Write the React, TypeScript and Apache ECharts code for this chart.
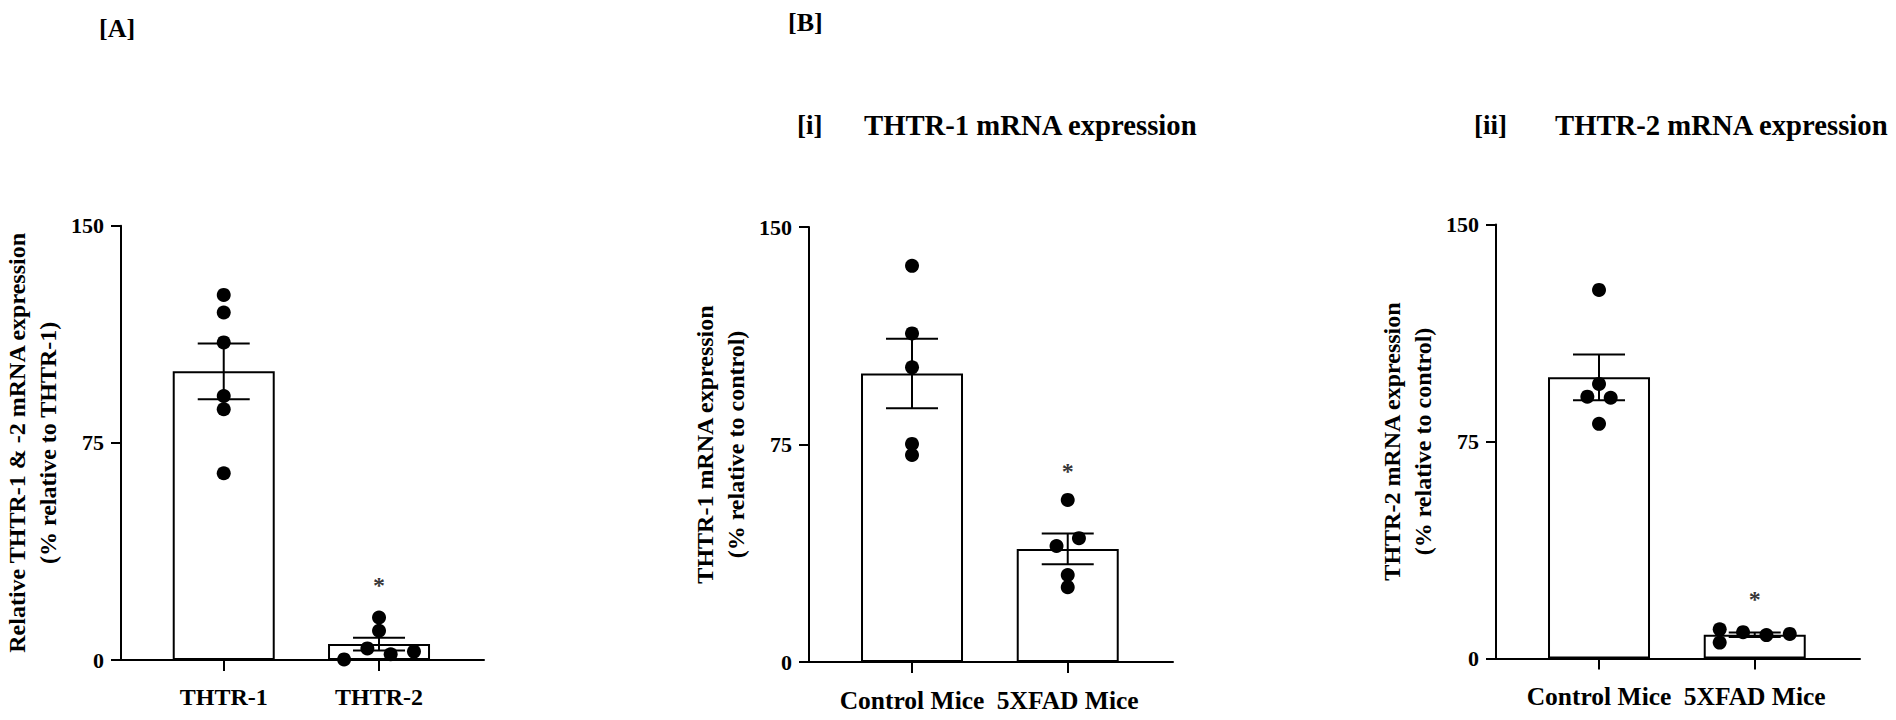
import React, { useEffect, useRef } from "react";
import * as echarts from "echarts";

// ---------- data ----------
const yTicks = [0, 75, 150];

// Panel A
const catsA = ["THTR-1", "THTR-2"];
const meanA = [99.7, 5.5];
const semA = [9.6, 2.2];
const ptsA1 = [126.1, 120.0, 109.7, 91.2, 86.6, 64.5];
const jitA1 = [0, 0, 0, 0, 0, 0];
const ptsA2 = [14.7, 10.1, 4.0, 2.0, 2.9, 0.2];
const jitA2 = [0, 0, -0.075, 0.075, 0.225, -0.225];
const starA = 27.9;

// Panel B(i)
const catsB = ["Control Mice", "5XFAD Mice"];
const meanB1 = [99.5, 39.0];
const semB1 = [12.0, 5.3];
const ptsB1c = [136.6, 113.3, 101.6, 75.2, 71.4];
const jitB1c = [0, 0, 0, 0, 0];
const ptsB1f = [55.9, 42.7, 40.0, 30.0, 25.8];
const jitB1f = [0, 0.072, -0.072, 0, 0];
const starB1 = 67.9;

// Panel B(ii)
const meanB2 = [97.2, 8.2];
const semB2 = [7.9, 0.8];
const ptsB2c = [127.4, 94.9, 90.5, 90.1, 81.1];
const jitB2c = [0, 0, -0.075, 0.075, 0];
const ptsB2f = [10.1, 5.5, 9.1, 8.1, 8.5];
const jitB2f = [-0.225, -0.225, -0.075, 0.075, 0.225];
const starB2 = 22.5;

const yNameA = "Relative THTR-1 & -2 mRNA expression\n(% relative to THTR-1)";
const yNameB1 = "THTR-1 mRNA expression\n(% relative to control)";
const yNameB2 = "THTR-2 mRNA expression\n(% relative to control)";

// ---------- styling / layout ----------
const FONT = "'Liberation Serif', 'Times New Roman', serif";
const XMIN = 0.3385;
const XMAX = 2.676;
const GRIDS = [
  { left: 120, top: 225.7, width: 364, height: 434.3 },
  { left: 809, top: 227, width: 364, height: 435 },
  { left: 1496, top: 224.5, width: 364, height: 434 },
];

const axisLineStyle = { color: "#000", width: 2 };

function pts(values: number[], jit: number[], cat: number) {
  return values.map((v, i) => [cat + jit[i], v]);
}

function panelSeries(
  idx: number,
  mean: number[],
  sem: number[],
  p1: number[][],
  p2: number[][],
  star: number
) {
  return [
    {
      type: "bar",
      xAxisIndex: idx,
      yAxisIndex: idx,
      barWidth: 102,
      z: 2,
      itemStyle: { color: "#fff", borderColor: "#000", borderWidth: 2 },
      data: mean.map((m, i) => [i + 1, m]),
    },
    {
      type: "custom",
      xAxisIndex: idx,
      yAxisIndex: idx,
      z: 3,
      data: mean.map((m, i) => [i + 1, m, sem[i]]),
      renderItem: (_params: any, api: any) => {
        const x = api.value(0);
        const m = api.value(1);
        const s = api.value(2);
        const top = api.coord([x, m + s]);
        const bot = api.coord([x, m - s]);
        const hw = 26;
        const style = { stroke: "#000", lineWidth: 2 };
        return {
          type: "group",
          children: [
            { type: "line", shape: { x1: top[0], y1: top[1], x2: bot[0], y2: bot[1] }, style },
            { type: "line", shape: { x1: top[0] - hw, y1: top[1], x2: top[0] + hw, y2: top[1] }, style },
            { type: "line", shape: { x1: bot[0] - hw, y1: bot[1], x2: bot[0] + hw, y2: bot[1] }, style },
          ],
        };
      },
    },
    {
      type: "scatter",
      xAxisIndex: idx,
      yAxisIndex: idx,
      z: 4,
      symbolSize: 14,
      itemStyle: { color: "#000", opacity: 1 },
      data: [...p1, ...p2],
    },
    {
      type: "scatter",
      xAxisIndex: idx,
      yAxisIndex: idx,
      z: 4,
      symbolSize: 0,
      label: {
        show: true,
        position: "inside",
        formatter: "*",
        offset: [0, 6],
        fontFamily: FONT,
        fontWeight: "bold",
        fontSize: 24,
        color: "#000",
      },
      data: [[2, star]],
    },
  ];
}

function xAxisFor(idx: number, cats: string[], size: number) {
  return {
    type: "value",
    gridIndex: idx,
    min: XMIN,
    max: XMAX,
    splitLine: { show: false },
    axisLine: { show: true, lineStyle: axisLineStyle },
    axisTick: { show: true, customValues: [1, 2], length: 11, lineStyle: axisLineStyle },
    axisLabel: {
      show: true,
      customValues: [1, 2],
      formatter: (v: number) => cats[Math.round(v) - 1] ?? "",
      margin: 25,
      fontFamily: FONT,
      fontWeight: "bold",
      fontSize: size,
      color: "#000",
    },
  };
}

function yAxisFor(idx: number, name: string) {
  return {
    type: "value",
    gridIndex: idx,
    min: yTicks[0],
    max: yTicks[yTicks.length - 1],
    interval: yTicks[1] - yTicks[0],
    splitLine: { show: false },
    axisLine: { show: true, lineStyle: axisLineStyle },
    axisTick: { show: true, length: 10, lineStyle: axisLineStyle },
    axisLabel: {
      margin: 17,
      fontFamily: FONT,
      fontWeight: "bold",
      fontSize: 22,
      color: "#000",
    },
    name,
    nameLocation: "middle",
    nameRotate: 90,
    nameGap: 58,
    nameTextStyle: {
      fontFamily: FONT,
      fontWeight: "bold",
      fontSize: 24,
      lineHeight: 31,
      color: "#000",
    },
  };
}

function txt(text: string, x: number, y: number, size: number) {
  return {
    type: "text",
    x,
    y,
    style: {
      text,
      fontFamily: FONT,
      fontWeight: "bold",
      fontSize: size,
      fill: "#000",
      verticalAlign: "middle",
      align: "left",
    },
  };
}

export default function App() {
  const ref = useRef<HTMLDivElement>(null);

  useEffect(() => {
    if (!ref.current) return;
    const chart = echarts.init(ref.current, undefined, { renderer: "svg" });
    const option: any = {
      animation: false,
      backgroundColor: "#fff",
      grid: GRIDS.map((g) => ({ ...g, containLabel: false })),
      xAxis: [xAxisFor(0, catsA, 24), xAxisFor(1, catsB, 25.5), xAxisFor(2, catsB, 25.5)],
      yAxis: [yAxisFor(0, yNameA), yAxisFor(1, yNameB1), yAxisFor(2, yNameB2)],
      graphic: [
        txt("[A]", 99, 28.5, 26),
        txt("[B]", 788, 22.5, 26),
        txt("[i]", 797, 125, 27),
        txt("THTR-1 mRNA expression", 864, 125, 28.7),
        txt("[ii]", 1474, 125, 27),
        txt("THTR-2 mRNA expression", 1555, 125, 28.7),
      ],
      series: [
        ...panelSeries(0, meanA, semA, pts(ptsA1, jitA1, 1), pts(ptsA2, jitA2, 2), starA),
        ...panelSeries(1, meanB1, semB1, pts(ptsB1c, jitB1c, 1), pts(ptsB1f, jitB1f, 2), starB1),
        ...panelSeries(2, meanB2, semB2, pts(ptsB2c, jitB2c, 1), pts(ptsB2f, jitB2f, 2), starB2),
      ],
    };
    chart.setOption(option);
    return () => chart.dispose();
  }, []);

  return (
    <div
      ref={ref}
      style={{ position: "absolute", left: 0, top: 0, width: 1896, height: 720, background: "#fff" }}
    />
  );
}
